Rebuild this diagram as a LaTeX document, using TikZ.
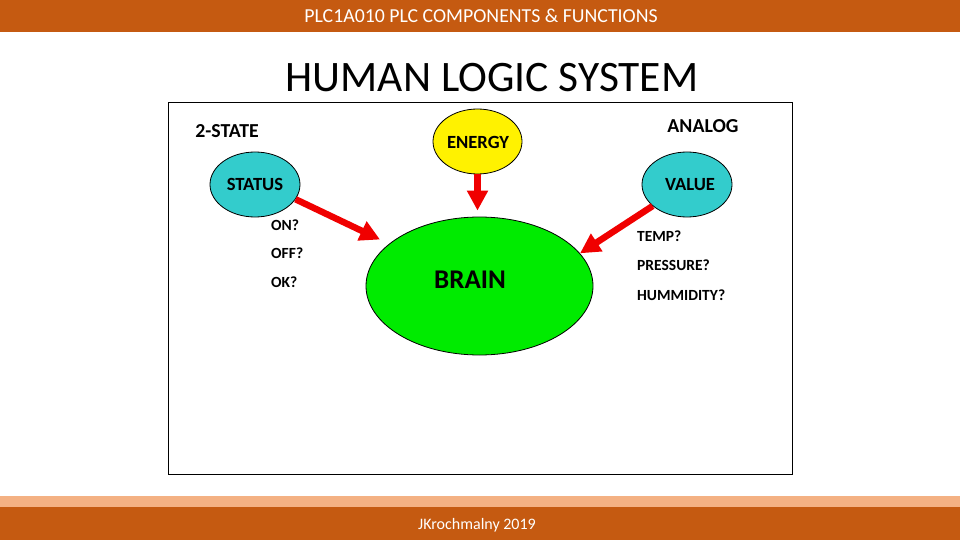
\documentclass[tikz,border=0pt]{standalone}
\usepackage{fontspec}
\setmainfont{Carlito}
\usetikzlibrary{shapes.geometric,arrows.meta}
\definecolor{bar}{RGB}{197,90,17}
\definecolor{barlight}{RGB}{244,177,131}
\definecolor{teal}{RGB}{51,204,204}
\definecolor{brgreen}{RGB}{0,235,0}
\definecolor{arrred}{RGB}{240,0,0}
\newcommand{\fs}[1]{\fontsize{#1}{#1}\selectfont}
\tikzset{
  blob/.style={ellipse, draw=black, line width=0.8pt, inner sep=0pt},
  lbl/.style={font=\fs{19.8}\bfseries, inner sep=0pt},
  inlbl/.style={font=\fs{18.6}\bfseries, inner sep=0pt},
  small/.style={font=\fs{15.5}\bfseries, inner sep=0pt, anchor=west},
  bigarrow/.style={draw=arrred, line width=6.5pt, -{Triangle[width=20pt,length=20pt]}},
}
\begin{document}
\begin{tikzpicture}[x=1pt,y=-1pt]
\useasboundingbox (0,0) rectangle (960,540);
\fill[white] (0,0) rectangle (960,540);
% header bar
\fill[bar] (0,0) rectangle (960,32);
\node[text=white, font=\fs{19.8}, inner sep=0pt] (hdr) at (481,16) {PLC1A010 PLC COMPONENTS \& FUNCTIONS};
% footer
\fill[barlight] (0,496) rectangle (960,507);
\fill[bar] (0,507) rectangle (960,540);
\node[text=white, font=\fs{16}, inner sep=0pt] (ftr) at (477,525) {JKrochmalny 2019};
% title
\node[font=\fs{43.5}, inner sep=0pt] (title) at (492,78) {HUMAN LOGIC SYSTEM};
% frame
\draw[black, line width=1pt] (168,103) rectangle (792,474);
% ellipses
\node[blob, fill=brgreen, minimum width=227pt, minimum height=138pt] (brain) at (479.5,286) {};
\node[font=\fs{27}\bfseries, inner sep=0pt] (braint) at (470,280) {BRAIN};
\node[blob, fill=yellow, minimum width=89pt, minimum height=65pt] (energy) at (477.5,141.5) {};
\node[inlbl] (energyt) at (478,142) {ENERGY};
\node[blob, fill=teal, minimum width=90pt, minimum height=65pt] (status) at (255,184.5) {};
\node[inlbl] (statust) at (255,184.5) {STATUS};
\node[blob, fill=teal, minimum width=90pt, minimum height=65pt] (value) at (687,184.5) {};
\node[inlbl] (valuet) at (690,184.5) {VALUE};
% headings
\node[lbl] (twostate) at (227,131) {2-STATE};
\node[lbl] (analog) at (703,126) {ANALOG};
% small labels
\node[small] (on) at (271,225) {ON?};
\node[small] (off) at (271,253.5) {OFF?};
\node[small] (ok) at (271,282.5) {OK?};
\node[small] (temp) at (637,236.7) {TEMP?};
\node[small] (press) at (637,265.7) {PRESSURE?};
\node[small] (hum) at (637,295) {HUMMIDITY?};
% arrows
\draw[bigarrow, shorten >=10pt] (status.340) -- (brain.155.6);
\draw[bigarrow, shorten >=6pt] (energy.south) -- (energy.south |- brain.north);
\draw[bigarrow] (value.212) -- (brain.18);
\end{tikzpicture}
\end{document}
